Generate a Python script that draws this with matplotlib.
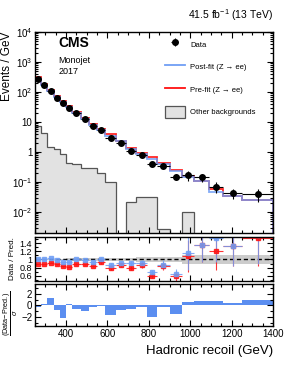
import numpy as np
import matplotlib
matplotlib.use('Agg')
import matplotlib.pyplot as plt
from matplotlib.patches import Patch
from matplotlib.lines import Line2D
from matplotlib.ticker import MultipleLocator, FixedLocator, FixedFormatter, LogLocator, NullFormatter

plt.rcParams['font.family'] = ['Liberation Sans', 'DejaVu Sans']
plt.rcParams['mathtext.fontset'] = 'custom'
plt.rcParams['mathtext.rm'] = 'Liberation Sans'
plt.rcParams['mathtext.it'] = 'Liberation Sans:italic'
plt.rcParams['mathtext.bf'] = 'Liberation Sans:bold'

# bin edges of hadronic recoil (GeV)
edges = np.array([250, 280, 310, 340, 370, 400, 430, 470, 510, 550, 590, 640,
                  690, 740, 790, 840, 900, 960, 1020, 1090, 1160, 1250, 1400])

# events / GeV
data = np.array([280, 170, 109, 65, 43, 29, 19.5, 12.3, 7.5, 5.4, 3.0, 2.03,
                 1.1, 0.79, 0.40, 0.35, 0.15, 0.167, 0.142, 0.07, 0.044, 0.04])
data_relerr = np.array([0.006, 0.008, 0.01, 0.012, 0.015, 0.018, 0.02, 0.025,
                        0.03, 0.035, 0.045, 0.05, 0.06, 0.07, 0.1, 0.12, 0.2,
                        0.37, 0.3, 0.38, 0.37, 0.45])
post_fit = np.array([280, 168, 106, 66, 46, 31, 19.3, 12.6, 8.0, 5.3, 3.45, 2.25,
                     1.22, 0.86, 0.59, 0.40, 0.234, 0.144, 0.105, 0.046, 0.033, 0.025])
pre_fit = np.array([316, 191, 118, 74, 52, 35.4, 21.9, 14.0, 8.9, 5.8, 3.85, 2.36,
                    1.38, 0.92, 0.67, 0.42, 0.254, 0.155, 0.105, 0.058, 0.033, 0.026])
other_bkg = np.array([7.4, 4.2, 1.5, 1.3, 0.83, 0.44, 0.40, 0.29, 0.30, 0.195, 0.10,
                      0, 0.021, 0.031, 0.032, 0.0027, 0, 0.0103, 0, 0, 0, 0])
unc_band = np.array([0.02, 0.02, 0.02, 0.02, 0.02, 0.025, 0.025, 0.025, 0.03, 0.03,
                     0.035, 0.04, 0.045, 0.05, 0.05, 0.05, 0.055, 0.1, 0.1, 0.11,
                     0.11, 0.11])
pulls = np.array([-0.2, 0.3, 1.3, -0.85, -2.2, 0.3, -0.6, -1.0, -0.25, -0.1, -1.65,
                  -0.7, -0.6, -0.3, -1.9, -0.3, -1.5, 0.5, 0.7, 0.7, 0.4, 1.0])

centers = 0.5 * (edges[1:] + edges[:-1])
halfw = 0.5 * np.diff(edges)

blue = '#6f9ef5'
red = '#ff1010'

fig = plt.figure(figsize=(2.91, 3.76), dpi=100)
ax1 = fig.add_axes([0.1203, 0.3803, 0.818, 0.5346])
ax2 = fig.add_axes([0.1203, 0.2535, 0.818, 0.1154])
ax3 = fig.add_axes([0.1203, 0.133, 0.818, 0.111])

# main panel
ax1.stairs(np.maximum(other_bkg, 1e-6), edges, baseline=1e-6, fill=True,
           facecolor='#e2e2e2', edgecolor='none')
ax1.stairs(np.maximum(other_bkg, 1e-6), edges, baseline=1e-6,
           color='#555555', lw=0.9)
ax1.stairs(pre_fit, edges, color=red, lw=1.3, alpha=0.9)
ax1.stairs(post_fit, edges, color=blue, lw=1.3, alpha=0.85)
eb = ax1.errorbar(centers, data, xerr=halfw, yerr=data * data_relerr, fmt='o',
                  color='black', ms=4, lw=0.8, capsize=0)
ax1.set_yscale('log')
ax1.set_ylim(2e-3, 1e4)
ax1.set_xlim(250, 1400)
ax1.yaxis.set_major_locator(FixedLocator([1e-2, 1e-1, 1, 10, 1e2, 1e3, 1e4]))
ax1.yaxis.set_major_formatter(FixedFormatter(
    ['$10^{-2}$', '$10^{-1}$', '1', '10', '$10^{2}$', '$10^{3}$', '$10^{4}$']))
ax1.yaxis.set_minor_locator(LogLocator(base=10, subs=np.arange(2, 10), numticks=20))
ax1.yaxis.set_minor_formatter(NullFormatter())
ax1.set_ylabel('Events / GeV', fontsize=8.5, loc='top')
ax1.yaxis.set_label_coords(-0.092, 1.0)

ax1.text(0.097, 0.945, 'CMS', fontweight='bold', fontsize=10,
         transform=ax1.transAxes, va='center')
ax1.text(0.097, 0.856, 'Monojet', fontsize=6.5, transform=ax1.transAxes, va='center')
ax1.text(0.097, 0.802, '2017', fontsize=6.5, transform=ax1.transAxes, va='center')
fig.text(0.938, 0.96, '41.5 fb$^{-1}$ (13 TeV)', fontsize=7.5, ha='right', va='center')

handles = [eb,
           Line2D([], [], color=blue, lw=1.3),
           Line2D([], [], color=red, lw=1.3),
           Patch(facecolor='#e2e2e2', edgecolor='#555555', lw=0.9)]
labels = ['Data', 'Post-fit (Z \u2192 ee)', 'Pre-fit (Z \u2192 ee)', 'Other backgrounds']
ax1.legend(handles, labels, loc='upper left', bbox_to_anchor=(0.545, 0.97),
           frameon=False, fontsize=5.5, borderpad=0, borderaxespad=0,
           handlelength=2.6, handleheight=2.1, handletextpad=0.7, labelspacing=1.35)

# ratio panel
ax2.stairs(1 + unc_band, edges, baseline=1 - unc_band, fill=True,
           color='#cccccc', lw=0)
ax2.axhline(1, color='black', ls=(0, (3, 2)), lw=1)
r_pre = data / pre_fit
r_post = data / post_fit
ax2.errorbar(centers, r_pre, xerr=halfw, yerr=r_pre * data_relerr, fmt='s',
             color=red, ms=2.5, lw=0.8, capsize=0, alpha=0.85)
ax2.errorbar(centers, r_post, xerr=halfw, yerr=r_post * data_relerr, fmt='s',
             color=blue, ms=2.5, lw=0.8, capsize=0, alpha=0.85)
ax2.set_xlim(250, 1400)
ax2.set_ylim(0.475, 1.55)
ax2.yaxis.set_major_locator(FixedLocator([0.6, 0.8, 1.0, 1.2, 1.4]))
ax2.yaxis.set_major_formatter(FixedFormatter(['0.6', '0.8', '1', '1.2', '1.4']))
ax2.yaxis.set_minor_locator(MultipleLocator(0.1))
ax2.set_ylabel('Data / Pred.', fontsize=5.8, va='center')
ax2.yaxis.set_label_coords(-0.095, 0.5)

# pull panel
ax3.stairs(pulls, edges, baseline=0, fill=True, color='#5b8ef0', lw=0)
ax3.set_xlim(250, 1400)
ax3.set_ylim(-3.5, 3.6)
ax3.yaxis.set_major_locator(FixedLocator([-2, 0, 2]))
ax3.yaxis.set_minor_locator(MultipleLocator(1))
ax3.set_ylabel(r'$\frac{\mathrm{(Data\!-\!Pred.)}}{\sigma}$', fontsize=7.5, va='center')
ax3.yaxis.set_label_coords(-0.1, 0.3)
ax3.set_xlabel('Hadronic recoil (GeV)', fontsize=9.5, loc='right')
ax3.xaxis.set_label_coords(1.0, -0.45)

for ax in (ax1, ax2, ax3):
    ax.xaxis.set_major_locator(MultipleLocator(200))
    ax.xaxis.set_minor_locator(MultipleLocator(50))
    ax.tick_params(which='both', direction='in', top=True, right=True, width=0.8)
    ax.tick_params(which='major', length=4, labelsize=7, pad=2)
    ax.tick_params(which='minor', length=2)
    for s in ax.spines.values():
        s.set_linewidth(1.0)
ax2.tick_params(axis='y', labelsize=6.5)
ax1.tick_params(labelbottom=False)
ax2.tick_params(labelbottom=False)

fig.savefig('out.png', dpi=100)
